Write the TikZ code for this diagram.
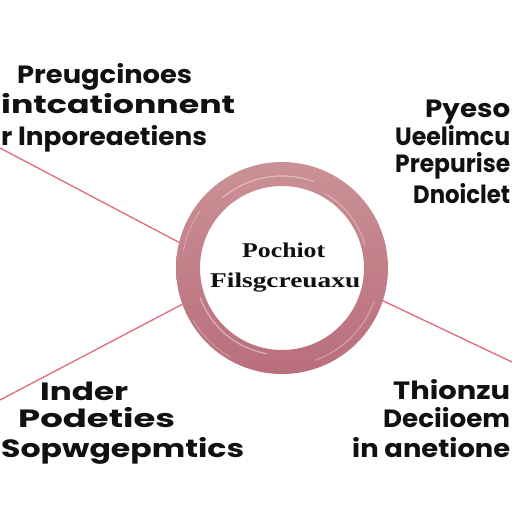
\documentclass[tikz,border=0pt]{standalone}
\usepackage{fontspec}
\usepackage{graphicx}
\newfontfamily\labelfont{Poppins}
\newfontfamily\centrefont{Liberation Serif}
\newsavebox\fitbox
\makeatletter
\newcommand\fitw[2]{\sbox\fitbox{#2}\scalebox{\fpeval{\strip@pt\dimexpr#1\relax/\strip@pt\wd\fitbox}}[1]{\usebox\fitbox}}
\makeatother
\definecolor{ringtop}{HTML}{CB9196}
\definecolor{ringbot}{HTML}{B96E7C}
\definecolor{conncol}{HTML}{E06C7A}
\definecolor{inkcol}{HTML}{111111}
\tikzset{
  lbl/.style={anchor=base west, inner sep=0pt, text=inkcol, font=\labelfont\bfseries\fontsize{25}{25}\selectfont},
  clbl/.style={anchor=base west, inner sep=0pt, text=inkcol, font=\centrefont\bfseries\fontsize{21}{21}\selectfont},
  conn/.style={draw=conncol, line width=1.3pt},
  streak/.style={white, line cap=round},
}
\begin{document}
\begin{tikzpicture}[x=1pt,y=-1pt]
\useasboundingbox[fill=white] (0,0) rectangle (512,512);
% ring
\node[circle, minimum size=212pt, inner sep=0pt] (ring) at (282,268) {};
\coordinate (tl) at (0,148);
\coordinate (bl) at (0,400);
\coordinate (br) at (512,362);
\draw[conn] (tl) -- (ring.166);
\draw[conn] (bl) -- (ring.200);
\draw[conn] (br) -- (ring.342);
\shade[even odd rule, top color=ringtop, bottom color=ringbot]
  (282,268) circle (106) (282,268) circle (82);
% brush streaks
\draw[streak, opacity=0.45, line width=1.2pt] (282,268) ++(100:87) arc (100:160:87);
\draw[streak, opacity=0.35, line width=1pt] (282,268) ++(20:98) arc (20:70:98);
\draw[streak, opacity=0.4, line width=1.2pt] (282,268) ++(230:92) arc (230:290:92);
\draw[streak, opacity=0.3, line width=0.8pt] (282,268) ++(190:100) arc (190:215:100);
\draw[streak, opacity=0.35, line width=1pt] (282,268) ++(300:86) arc (300:345:86);
\draw[streak, opacity=0.3, line width=0.8pt] (282,268) ++(120:103) arc (120:150:103);
% top-left
\node[lbl] (tl1) at (17,83) {\fitw{175pt}{Preugcinoes}};
\node[lbl] (tl2) at (1,113) {\fitw{234pt}{intcationnent}};
\node[lbl] (tl3) at (1,145) {\fitw{206pt}{r lnporeaetiens}};
% top-right
\node[lbl] (tr1) at (425,117) {\fitw{85pt}{Pyeso}};
\node[lbl] (tr2) at (395,145) {\fitw{115pt}{Ueelimcu}};
\node[lbl] (tr3) at (395,172) {\fitw{115pt}{Prepurise}};
\node[lbl] (tr4) at (413,203) {\fitw{97pt}{Dnoiclet}};
% centre
\node[clbl] (c1) at (242,257) {\fitw{83pt}{Pochiot}};
\node[clbl] (c2) at (210,287) {\fitw{150pt}{Filsgcreuaxu}};
% bottom-left
\node[lbl] (bl1) at (40,400) {\fitw{88pt}{Inder}};
\node[lbl] (bl2) at (18,427) {\fitw{157pt}{Podeties}};
\node[lbl] (bl3) at (1,457) {\fitw{243pt}{Sopwgepmtics}};
% bottom-right
\node[lbl] (br1) at (393,399) {\fitw{117pt}{Thionzu}};
\node[lbl] (br2) at (383,427) {\fitw{127pt}{Deciioem}};
\node[lbl] (br3) at (352,457) {\fitw{158pt}{in anetione}};
\end{tikzpicture}
\end{document}
